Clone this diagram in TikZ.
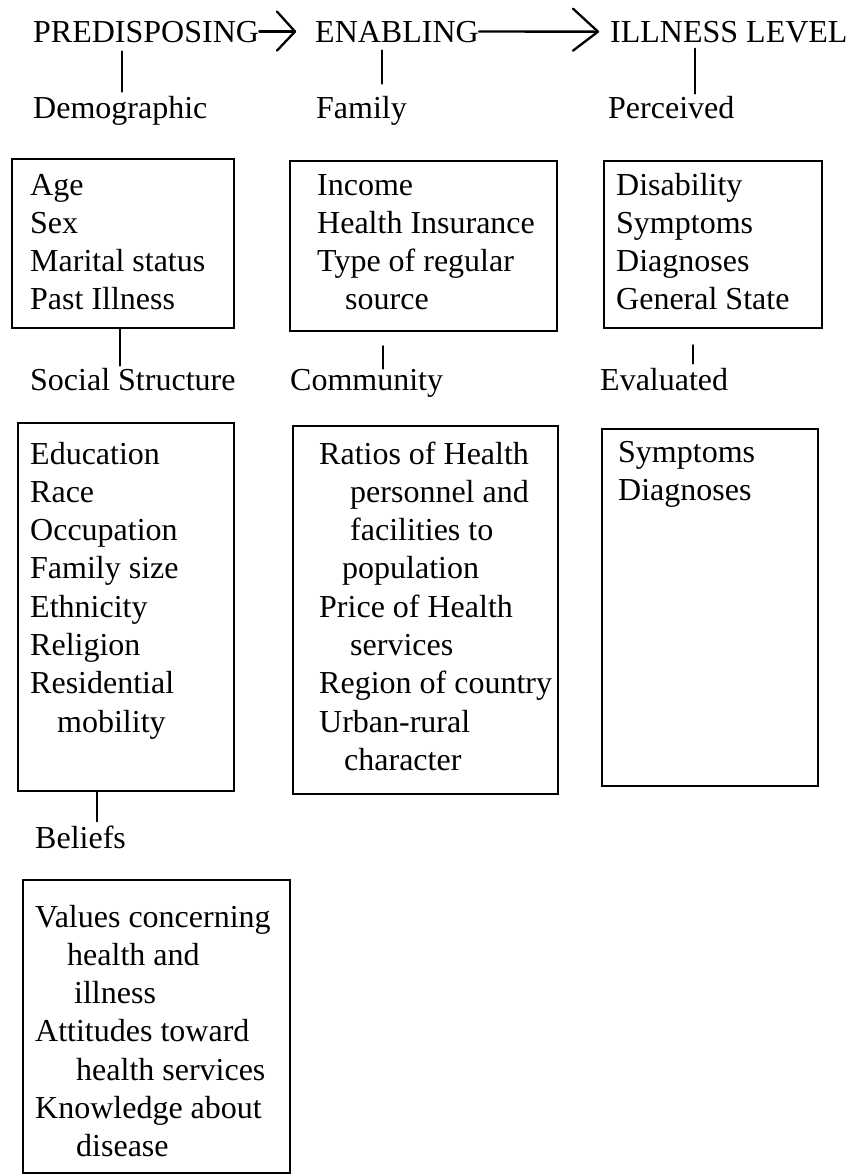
\documentclass[tikz,border=0pt]{standalone}
\usepackage{fontspec}
\setmainfont{Liberation Serif}
\usetikzlibrary{calc}
\begin{document}
\begin{tikzpicture}[x=1pt,y=-1pt,
  txt/.style={inner sep=0pt, anchor=base west, font=\fontsize{32}{38.3}\selectfont},
  box/.style={draw, line width=2.3pt, anchor=north west, inner sep=0pt},
  ln/.style={line width=2.3pt, line cap=round, line join=round}]
\useasboundingbox (0,0) rectangle (866,1176);
% header
\node[txt] (pre) at (33,42) {PREDISPOSING};
\node[txt] (ena) at (315,42) {ENABLING};
\node[txt] (ill) at (610,42) {ILLNESS LEVEL};
\coordinate (a1) at ($(ena.west)+(-20,0)$);
\coordinate (a2) at ($(ill.west)+(-12,0)$);
\draw[ln] (pre.east) -- (a1);
\draw[ln] ($(a1)+(-18,-20)$) -- (a1) -- ($(a1)+(-18,19)$);
\draw[ln] (ena.east) -- (a2);
\draw[ln] ($(a2)+(-25,-23)$) -- (a2) -- ($(a2)+(-25,19)$);
% first level labels
\node[txt] (dem) at (33,118) {Demographic};
\node[txt] (fam) at (316,118) {Family};
\node[txt] (per) at (608,118) {Perceived};
\coordinate (p1) at (122,0); \coordinate (p2) at (382,0); \coordinate (p3) at (695,0);
\draw[ln, shorten <=9pt, shorten >=4pt] (pre.south -| p1) -- (dem.north -| p1);
\draw[ln, shorten <=8pt, shorten >=12pt] (ena.south -| p2) -- (fam.north -| p2);
\draw[ln, shorten <=6pt, shorten >=2pt] (ill.south -| p3) -- (per.north -| p3);
% first boxes
\node[box, minimum width=222pt, minimum height=169pt] (b1) at (11,158) {};
\node[box, minimum width=267pt, minimum height=170pt] (b2) at (289,160) {};
\node[box, minimum width=218pt, minimum height=167pt] (b3) at (603,160) {};
\node[txt] (t1) at (30,195) {\parbox[t]{200pt}{Age\\Sex\\Marital status\\Past Illness}};
\node[txt] (t2) at (317,195) {\parbox[t]{240pt}{Income\\Health Insurance\\Type of regular\\\hspace*{28pt}source}};
\node[txt] (t3) at (616,195) {\parbox[t]{200pt}{Disability\\Symptoms\\Diagnoses\\General State}};
% second level labels
\node[txt] (soc) at (30,390) {Social Structure};
\node[txt] (com) at (290,390) {Community};
\node[txt] (eva) at (600,390) {Evaluated};
\coordinate (q1) at (120,0); \coordinate (q2) at (383,0); \coordinate (q3) at (693,0);
\draw[ln] (b1.south -| q1) -- ([yshift=2pt]soc.north -| q1);
\draw[ln, shorten <=14pt] (b2.south -| q2) -- (com.north -| q2);
\draw[ln, shorten <=16pt] (b3.south -| q3) -- ([yshift=4pt]eva.north -| q3);
% second boxes
\node[box, minimum width=216pt, minimum height=368pt] (b4) at (17,422) {};
\node[box, minimum width=265pt, minimum height=368pt] (b5) at (292,425) {};
\node[box, minimum width=216pt, minimum height=357pt] (b6) at (601,428) {};
\node[txt] (t4) at (30,464) {\parbox[t]{200pt}{Education\\Race\\Occupation\\Family size\\Ethnicity\\Religion\\Residential\\\hspace*{27pt}mobility}};
\node[txt] (t5) at (319,464) {\parbox[t]{240pt}{Ratios of Health\\\hspace*{31pt}personnel and\\\hspace*{31pt}facilities to\\\hspace*{23pt}population\\Price of Health\\\hspace*{31pt}services\\Region of country\\Urban-rural\\\hspace*{25pt}character}};
\node[txt] (t6) at (618,462) {\parbox[t]{200pt}{Symptoms\\Diagnoses}};
% beliefs
\node[txt] (bel) at (35,848) {Beliefs};
\coordinate (r1) at (97,0);
\draw[ln] (b4.south -| r1) -- ([yshift=4pt]bel.north -| r1);
\node[box, minimum width=267pt, minimum height=293pt] (b7) at (22,879) {};
\node[txt] (t7) at (35,927) {\parbox[t]{260pt}{Values concerning\\\hspace*{32pt}health and\\\hspace*{39pt}illness\\Attitudes toward\\\hspace*{41pt}health services\\Knowledge about\\\hspace*{41pt}disease}};
\end{tikzpicture}
\end{document}
